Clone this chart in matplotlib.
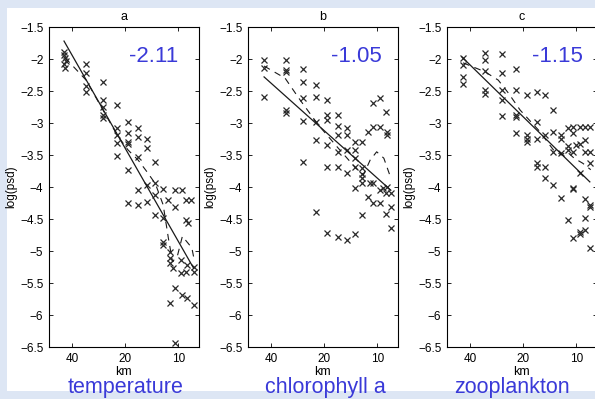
import numpy as np
import matplotlib
matplotlib.use('Agg')
import matplotlib.pyplot as plt
from matplotlib.patches import Rectangle
from matplotlib.ticker import FixedLocator, FuncFormatter, NullLocator

plt.rcParams['font.family'] = ['Liberation Sans', 'DejaVu Sans']

# ---- data (km, log(psd)) ----
titles = ['a', 'b', 'c']
names = ['temperature', 'chlorophyll a', 'zooplankton']
slopes = ['-2.11', '-1.05', '-1.15']

a_km = [44.5, 44.5, 43.8, 43.2, 44.5, 43.8,
        33.3, 33.3, 33.3, 33.3,
        26.7, 26.7, 26.7, 26.7, 26.7,
        22.2, 22.2, 22.2, 22.2, 22.2,
        19.3, 19.3, 19.3, 19.3, 19.3, 19.3,
        16.9, 16.9, 16.9, 16.9, 16.9,
        15.0, 15.0, 15.0, 15.0,
        13.5, 13.5, 13.5, 13.5,
        12.2, 12.2, 12.2, 12.2,
        11.4, 11.1, 11.1, 11.1, 11.1, 10.8,
        10.4, 10.4, 10.4, 10.4,
        9.7, 9.7, 9.5, 9.5,
        9.1, 9.1, 9.1, 8.9, 8.9, 8.8, 8.5, 8.2, 8.2, 8.2]
a_val = [-1.89, -1.94, -1.98, -2.03, -2.08, -2.14,
         -2.08, -2.22, -2.42, -2.52,
         -2.36, -2.64, -2.75, -2.88, -2.92,
         -2.72, -3.08, -3.19, -3.31, -3.52,
         -2.98, -3.16, -3.30, -3.33, -3.73, -4.25,
         -3.08, -3.22, -3.53, -4.05, -4.28,
         -3.25, -3.39, -3.97, -4.23,
         -3.61, -3.94, -4.13, -4.44,
         -4.03, -4.48, -4.86, -4.90,
         -4.20, -5.02, -5.11, -5.19, -5.81, -5.27,
         -4.05, -4.31, -5.58, -6.44,
         -5.14, -5.34, -4.05, -5.69,
         -4.20, -4.52, -5.33, -5.22, -5.73, -4.56, -4.20, -5.84, -5.25, -5.33]

b_km = [43.8, 43.8, 43.8,
        32.9, 32.9, 32.9, 32.9, 32.9,
        26.3, 26.3, 26.3, 26.3, 26.3,
        22.2, 22.2, 22.2, 22.2, 22.2,
        19.3, 19.3, 19.3, 19.3, 19.3, 19.3,
        16.7, 16.7, 16.7, 16.7, 16.7, 16.7,
        14.8, 14.8, 14.8, 14.8, 14.8,
        13.4, 13.4, 13.4, 13.4, 13.4, 13.4,
        12.2, 12.2, 12.2, 12.2, 12.2, 12.2,
        11.3, 11.3, 11.0,
        10.6, 10.6, 10.6, 10.6,
        9.7, 9.7, 9.7, 9.7, 9.3,
        9.0, 9.0, 9.0, 8.8, 8.8, 8.8,
        8.4, 8.4, 8.4]
b_val = [-2.02, -2.14, -2.59,
         -2.02, -2.17, -2.20, -2.80, -2.84,
         -2.16, -2.36, -2.61, -2.97, -3.61,
         -2.41, -2.59, -2.98, -3.27, -4.39,
         -2.64, -2.88, -2.95, -3.34, -3.68, -4.72,
         -2.88, -3.05, -3.19, -3.45, -3.68, -4.78,
         -3.08, -3.19, -3.42, -3.78, -4.83,
         -3.30, -3.42, -3.55, -3.69, -4.02, -4.73,
         -3.30, -3.70, -3.80, -3.86, -3.94, -4.44,
         -3.14, -4.16, -3.94,
         -3.06, -2.69, -3.94, -4.25,
         -2.61, -3.06, -4.05, -4.25, -4.02,
         -2.83, -4.10, -4.42, -3.14, -3.19, -4.00,
         -4.10, -4.31, -4.64]

c_km = [43.8, 43.8, 43.8, 43.8,
        32.9, 32.9, 32.9, 32.9, 32.9,
        26.3, 26.3, 26.3, 26.3, 26.3,
        21.9, 21.9, 21.9, 21.9, 21.9,
        19.0, 19.0, 19.0, 19.0,
        16.7, 16.7, 16.7, 16.7, 16.7,
        15.0, 15.0, 15.0, 15.0,
        13.5, 13.5, 13.5, 13.5,
        12.2, 12.2, 12.2, 12.2,
        11.2, 11.2, 11.2, 11.2,
        10.4, 10.4, 10.4, 10.4, 10.4, 10.4, 10.1,
        9.6, 9.6, 9.6, 9.6, 9.5,
        9.0, 9.0, 9.0, 9.0, 9.0, 9.0,
        8.4, 8.4, 8.4, 8.4, 8.4, 8.4]
c_val = [-1.98, -2.09, -2.28, -2.39,
         -1.91, -2.02, -2.19, -2.48, -2.55,
         -1.92, -2.22, -2.48, -2.64, -2.89,
         -2.16, -2.48, -2.88, -2.91, -3.16,
         -2.56, -3.19, -3.25, -3.30,
         -2.52, -2.98, -3.25, -3.63, -3.68,
         -2.56, -3.19, -3.68, -3.86,
         -2.80, -3.14, -3.45, -3.97,
         -3.19, -3.25, -3.47, -4.17,
         -3.08, -3.36, -3.42, -4.52,
         -3.06, -3.16, -3.45, -4.02, -4.80, -4.03, -3.34,
         -3.06, -3.33, -3.78, -4.73, -4.70,
         -3.06, -3.27, -3.45, -4.19, -4.49, -4.67,
         -3.06, -3.45, -3.63, -4.28, -4.31, -4.95]

# fitted lines (end points)
a_fit_km, a_fit = [44.4, 8.2], [-1.72, -5.27]
b_fit_km, b_fit = [43.8, 8.4], [-2.28, -4.05]
c_fit_km, c_fit = [44.4, 8.4], [-1.97, -3.92]

# dashed curves
a_dash_km = [43.8, 33.3, 26.7, 22.2, 19.3, 16.9, 15.0, 13.5, 12.2, 11.4, 10.8, 10.1, 9.5, 8.4, 8.1]
a_dash = [-1.98, -2.33, -2.80, -3.19, -3.42, -3.58, -3.77, -3.95, -4.28, -4.80, -5.17, -5.06, -4.77, -4.95, -5.17]
b_dash_km = [43.8, 33.3, 27.4, 21.6, 16.7, 13.3, 12.0, 11.0, 10.1, 9.2, 8.4]
b_dash = [-2.11, -2.30, -2.64, -3.03, -3.39, -3.70, -3.81, -3.58, -3.45, -3.55, -3.86]
c_dash_km = [43.8, 32.9, 27.7, 24.3, 20.8, 16.4, 13.5, 12.2, 11.3, 10.3, 9.2, 8.3]
c_dash = [-2.06, -2.20, -2.33, -2.53, -2.80, -3.11, -3.42, -3.50, -3.45, -3.55, -3.63, -3.73]

panels = [
    (a_km, a_val, a_fit_km, a_fit, a_dash_km, a_dash),
    (b_km, b_val, b_fit_km, b_fit, b_dash_km, b_dash),
    (c_km, c_val, c_fit_km, c_fit, c_dash_km, c_dash),
]

W, H = 595, 399
fig = plt.figure(figsize=(W / 100, H / 100), dpi=100, facecolor='#dde6f4')
fig.patches.append(Rectangle((7 / W, 1 - 391 / H), 1, (391 - 8) / H,
                             transform=fig.transFigure, facecolor='white',
                             edgecolor='none', zorder=-10))

blue = '#3a3ad8'
lefts = [49, 248, 447]
slope_x = [154, 356, 557]
name_x = [126, 325, 512]

fmt = FuncFormatter(lambda v, p: ('%g' % v).replace('-', '\u2212'))

for i, (km, val, fkm, fv, dkm, dv) in enumerate(panels):
    ax = fig.add_axes([lefts[i] / W, 1 - 347 / H, 149.5 / W, 320 / H])
    ax.set_facecolor('white')
    ax.plot(km, val, 'x', color='#2a2a2a', markersize=4, mew=0.9)
    ax.plot(fkm, fv, '-', color='#1a1a1a', lw=0.9)
    ax.plot(dkm, dv, color='#1a1a1a', lw=0.8, dashes=(6, 5))
    ax.set_xscale('log')
    ax.set_xlim(54.0, 7.7)
    ax.set_ylim(-6.5, -1.5)
    ax.xaxis.set_major_locator(FixedLocator([40, 20, 10]))
    ax.xaxis.set_minor_locator(NullLocator())
    ax.xaxis.set_major_formatter(FuncFormatter(lambda v, p: '%d' % v))
    ax.set_yticks(np.arange(-6.5, -1.49, 0.5))
    ax.yaxis.set_major_formatter(fmt)
    ax.tick_params(direction='in', top=True, right=True, length=3, width=0.6,
                   labelsize=8.5, pad=4, colors='black')
    for s in ax.spines.values():
        s.set_linewidth(0.8)
    ax.set_xlabel('km', fontsize=9, labelpad=1)
    ax.set_ylabel('log(psd)', fontsize=8.5, labelpad=2)
    ax.set_title(titles[i], fontsize=9, pad=5)
    ax.text((slope_x[i] - lefts[i]) / 149.5, (347 - 62) / 320, slopes[i],
            transform=ax.transAxes, ha='center', va='baseline',
            fontsize=16, color=blue)
    fig.text(name_x[i] / W, 1 - 393 / H, names[i], ha='center', va='baseline',
             fontsize=15.5, color=blue)

fig.savefig('out.png', dpi=100, facecolor=fig.get_facecolor())
